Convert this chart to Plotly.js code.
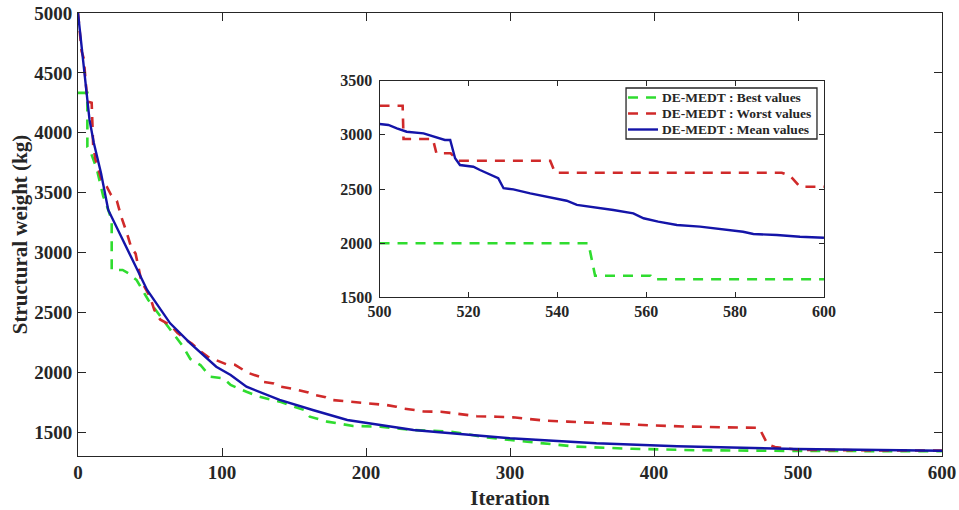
<!DOCTYPE html>
<html>
<head>
<meta charset="utf-8">
<script src="https://cdn.plot.ly/plotly-3.0.1.min.js"></script>
<style>
  html, body { margin: 0; padding: 0; background: #fff; }
  #chart { width: 959px; height: 510px; }
</style>
</head>
<body>
<div id="chart"></div>
<script>
// Convergence history of DE-MEDT over the full run (iterations 0-600)
const bestIter = [0, 6.5, 6.5, 9, 13, 17.5, 20, 23.4, 23.4, 31, 35, 40.7, 48.8, 58, 66, 73, 78, 85, 92, 101, 106, 117, 126, 140, 150, 157, 161, 173, 191, 210, 221, 233, 258, 284, 312, 346, 385, 430, 500, 600];
const bestWeight = [4333, 4333, 3880, 3830, 3700, 3470, 3390, 3272, 2854, 2854, 2826, 2770, 2603, 2450, 2325, 2213, 2110, 2060, 1962, 1949, 1893, 1837, 1795, 1754, 1712, 1684, 1628, 1587, 1551, 1545, 1531, 1517, 1505, 1455, 1419, 1378, 1360, 1348, 1342, 1340];

const worstIter = [0, 2.5, 4, 6.5, 9.5, 10.5, 12, 14, 16.5, 20, 23, 27, 30, 34, 37, 40, 42, 44, 50, 53, 57, 64, 69, 75, 79, 85, 90, 96, 103, 109, 115, 118, 126, 128, 136, 140, 150, 160, 165, 172, 176, 188, 196, 205, 214, 221, 225, 234, 240, 252, 260, 270, 277, 291, 302, 312, 316, 325, 340, 355, 372, 400, 420, 440, 460, 473, 476, 479, 484, 490, 500, 550, 600];
const worstWeight = [5000, 4680, 4620, 4260, 4250, 3900, 3780, 3700, 3600, 3550, 3480, 3430, 3300, 3160, 3040, 2990, 2880, 2760, 2630, 2520, 2440, 2394, 2330, 2270, 2240, 2175, 2130, 2100, 2066, 2062, 2020, 1995, 1962, 1920, 1905, 1880, 1860, 1830, 1808, 1790, 1768, 1755, 1742, 1735, 1726, 1712, 1698, 1684, 1672, 1670, 1656, 1640, 1632, 1628, 1623, 1610, 1605, 1595, 1587, 1578, 1573, 1555, 1547, 1540, 1537, 1536, 1460, 1395, 1375, 1365, 1352, 1347, 1345];

const meanIter = [0, 5, 8, 11, 16, 21, 31, 36, 48, 64, 78, 96, 106, 117, 140, 163, 187, 210, 233, 251, 300, 360, 416, 499, 600];
const meanWeight = [5000, 4441, 4107, 3915, 3662, 3355, 3104, 2993, 2687, 2408, 2241, 2046, 1977, 1879, 1768, 1684, 1601, 1559, 1517, 1498, 1448, 1406, 1382, 1358, 1344];

// Close-up of iterations 500-600
const zoomBestIter = [500, 547, 548.5, 561, 561.5, 600];
const zoomBestWeight = [2000, 2000, 1700, 1700, 1668, 1668];

const zoomWorstIter = [500, 505.2, 505.4, 512, 512.8, 516, 517.7, 538.4, 539.5, 590.5, 592.4, 594.6, 600];
const zoomWorstWeight = [3268, 3268, 2961, 2961, 2829, 2829, 2761, 2761, 2650, 2650, 2620, 2521, 2521];

const zoomMeanIter = [500, 502, 503.9, 506.1, 509.9, 512.1, 514.7, 515.9, 517, 518.1, 521.1, 522.6, 524.9, 526.7, 527.9, 530.1, 533.9, 536.9, 539.9, 542.1, 544.4, 547.4, 549.6, 552.6, 557.1, 559.4, 562.7, 566.9, 572.1, 576.6, 581.8, 584.1, 589.4, 594.6, 600];
const zoomMeanWeight = [3099, 3090, 3059, 3028, 3013, 2982, 2952, 2952, 2783, 2721, 2705, 2675, 2629, 2599, 2507, 2497, 2460, 2435, 2405, 2392, 2353, 2337, 2322, 2306, 2276, 2230, 2199, 2168, 2153, 2129, 2106, 2085, 2076, 2060, 2051];

const seriesNames = ['DE-MEDT : Best values', 'DE-MEDT : Worst values', 'DE-MEDT : Mean values'];

const GREEN = '#2fdc2f';
const RED = '#d02a2a';
const BLUE = '#1414a8';
const DASH = '10px,8px';
const SERIF = 'Liberation Serif, Times New Roman, serif';
const INK = '#262626';
const seriesColors = [GREEN, RED, BLUE];
const seriesDash = [DASH, DASH, 'solid'];
const seriesWidth = [2.6, 2.6, 2.4];

const traces = [
  { x: bestIter, y: bestWeight, name: seriesNames[0], xaxis: 'x', yaxis: 'y' },
  { x: worstIter, y: worstWeight, name: seriesNames[1], xaxis: 'x', yaxis: 'y' },
  { x: meanIter, y: meanWeight, name: seriesNames[2], xaxis: 'x', yaxis: 'y' },
  { x: zoomBestIter, y: zoomBestWeight, name: seriesNames[0], xaxis: 'x2', yaxis: 'y2' },
  { x: zoomWorstIter, y: zoomWorstWeight, name: seriesNames[1], xaxis: 'x2', yaxis: 'y2' },
  { x: zoomMeanIter, y: zoomMeanWeight, name: seriesNames[2], xaxis: 'x2', yaxis: 'y2' }
].map((t, i) => Object.assign(t, {
  mode: 'lines', showlegend: false, hoverinfo: 'skip',
  line: { color: seriesColors[i % 3], width: seriesWidth[i % 3], dash: seriesDash[i % 3] }
}));

function axisStyle(extra) {
  return Object.assign({
    showline: true, linecolor: INK, linewidth: 1, mirror: 'ticks',
    ticks: 'inside', tickcolor: INK, tickwidth: 1,
    showgrid: false, zeroline: false,
    tickfont: { family: SERIF, size: 19, weight: 700, color: INK }
  }, extra);
}

// Legend box for the close-up, laid out in paper coordinates
const legendBox = { x0: 0.6343, x1: 0.8553, y0: 0.7156, y1: 0.8307 };
const legendRows = [0.8093, 0.7731, 0.7370];
const sampleX = [0.6366, 0.6713];
const labelX = 0.6736;

const shapes = [{
  type: 'rect', xref: 'paper', yref: 'paper',
  x0: legendBox.x0, x1: legendBox.x1, y0: legendBox.y0, y1: legendBox.y1,
  line: { color: INK, width: 1.3 }, fillcolor: '#ffffff', layer: 'above'
}];
const annotations = [];
seriesNames.forEach((name, i) => {
  shapes.push({
    type: 'line', xref: 'paper', yref: 'paper',
    x0: sampleX[0], x1: sampleX[1], y0: legendRows[i], y1: legendRows[i],
    line: { color: seriesColors[i], width: seriesWidth[i], dash: seriesDash[i] }, layer: 'above'
  });
  annotations.push({
    xref: 'paper', yref: 'paper', x: labelX, y: legendRows[i],
    xanchor: 'left', yanchor: 'middle', showarrow: false, text: name,
    font: { family: SERIF, size: 13.5, weight: 700, color: INK }
  });
});

const layout = {
  width: 959, height: 510,
  margin: { l: 78, r: 17, t: 13, b: 54 },
  paper_bgcolor: '#ffffff', plot_bgcolor: '#ffffff',
  font: { family: SERIF, color: INK },
  showlegend: false,
  xaxis: axisStyle({
    domain: [0, 1], range: [0, 600], dtick: 100, ticklen: 8,
    ticklabelstandoff: -1,
    title: { text: 'Iteration', font: { family: SERIF, size: 21, weight: 700, color: INK }, standoff: 8 }
  }),
  yaxis: axisStyle({
    domain: [0, 1], range: [1300, 5000], dtick: 500, ticklen: 8,
    ticklabelstandoff: 1,
    title: { text: 'Structural weight (kg)', font: { family: SERIF, size: 21, weight: 700, color: INK }, standoff: 0 }
  }),
  xaxis2: axisStyle({
    domain: [0.349, 0.8634], range: [500, 600], dtick: 20, ticklen: 5, anchor: 'y2',
    ticklabelstandoff: -1,
    tickfont: { family: SERIF, size: 16, weight: 700, color: INK }
  }),
  yaxis2: axisStyle({
    domain: [0.3578, 0.8476], range: [1500, 3500], dtick: 500, ticklen: 5, anchor: 'x2',
    ticklabelstandoff: 3,
    tickfont: { family: SERIF, size: 16, weight: 700, color: INK }
  }),
  shapes: shapes,
  annotations: annotations
};

Plotly.newPlot('chart', traces, layout, { displayModeBar: false, staticPlot: true });
</script>
</body>
</html>
